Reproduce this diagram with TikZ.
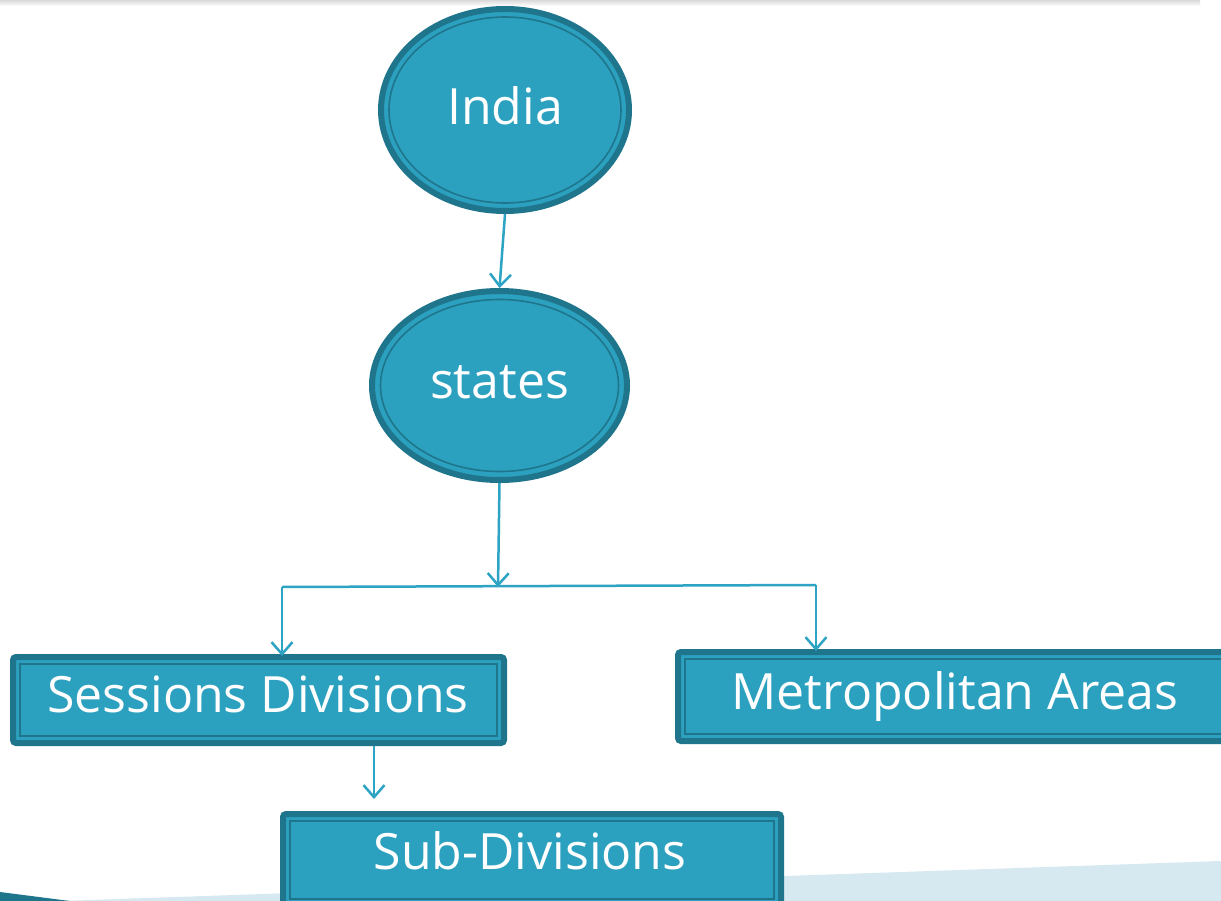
\documentclass[tikz,border=0pt]{standalone}
\usepackage{fontspec}
\setmainfont{Open Sans}
\usetikzlibrary{arrows.meta,shapes.geometric}
\definecolor{boxfill}{RGB}{44,161,191}
\definecolor{boxdark}{RGB}{31,118,140}
\definecolor{arrowc}{RGB}{46,164,196}
\definecolor{bandlight}{RGB}{214,233,241}
\tikzset{
  oval/.style={ellipse, draw=boxdark, fill=boxfill, line width=6pt, inner sep=0pt},
  panel/.style={rectangle, rounded corners=3pt, draw=boxdark, fill=boxfill, line width=6pt,
    inner sep=0pt},
  label/.style={text=white, font=\fontsize{50}{57}\selectfont},
  innerline/.style={draw=boxdark, line width=1.6pt},
  conn/.style={draw=arrowc, line width=2.5pt},
  arr/.style={conn, -{Straight Barb[length=12pt,width=21pt,line width=2.5pt]}},
}
\begin{document}
\begin{tikzpicture}[x=1pt,y=-1pt]
\useasboundingbox (0,0) rectangle (1221,901);
\fill[white] (0,0) rectangle (1221,901);
% top shadow
\shade[top color=gray!30, bottom color=white] (0,0) rectangle (1200,6);
% bottom band
\fill[bandlight] (60,901) -- (1221,861) -- (1221,901) -- cycle;
\fill[boxdark] (0,892) -- (70,901) -- (0,901) -- cycle;

% nodes
\node[oval, minimum width=248pt, minimum height=202pt] (india) at (505,110) {};
\draw[innerline] (india.center) ellipse [x radius=116pt, y radius=93pt];
\node[label] (indiat) at (505,106) {India};

\node[oval, minimum width=255pt, minimum height=189pt] (states) at (499.5,385.5) {};
\draw[innerline] (states.center) ellipse [x radius=119pt, y radius=86pt];
\node[label] (statest) at (499.5,382) {states};

\node[panel, minimum width=491pt, minimum height=86pt] (sess) at (258.5,700) {};
\draw[innerline] ([xshift=10pt,yshift=-10pt]sess.north west) rectangle ([xshift=-10pt,yshift=10pt]sess.south east);
\node[label] (sesst) at (258,694) {Sessions Divisions};

\node[panel, minimum width=556pt, minimum height=89pt] (metro) at (956,696.5) {};
\draw[innerline] ([xshift=10pt,yshift=-10pt]metro.north west) rectangle ([xshift=-10pt,yshift=10pt]metro.south east);
\node[label] (metrot) at (955,697) {Metropolitan Areas};

\node[panel, minimum width=498pt, minimum height=92pt] (sub) at (532,860) {};
\draw[innerline] ([xshift=10pt,yshift=-10pt]sub.north west) rectangle ([xshift=-10pt,yshift=10pt]sub.south east);
\node[label] (subt) at (530,851) {Sub-Divisions};

% connectors
\coordinate (j) at (498,587);
\coordinate (jl) at (282,587);
\coordinate (jr) at (816,585);
\coordinate (sesstop) at (282,656);
\coordinate (metrotop) at (816,651);
\coordinate (subarr) at (374,799);
\draw[arr] (india.south) -- (states.north);
\draw[arr] (states.south) -- (j);
\draw[conn] (jl) -- (jr);
\draw[arr] (jl) -- (sesstop);
\draw[arr] (jr) -- (metrotop);
\draw[arr] (sess.south -| subarr) -- (subarr);
\end{tikzpicture}
\end{document}
